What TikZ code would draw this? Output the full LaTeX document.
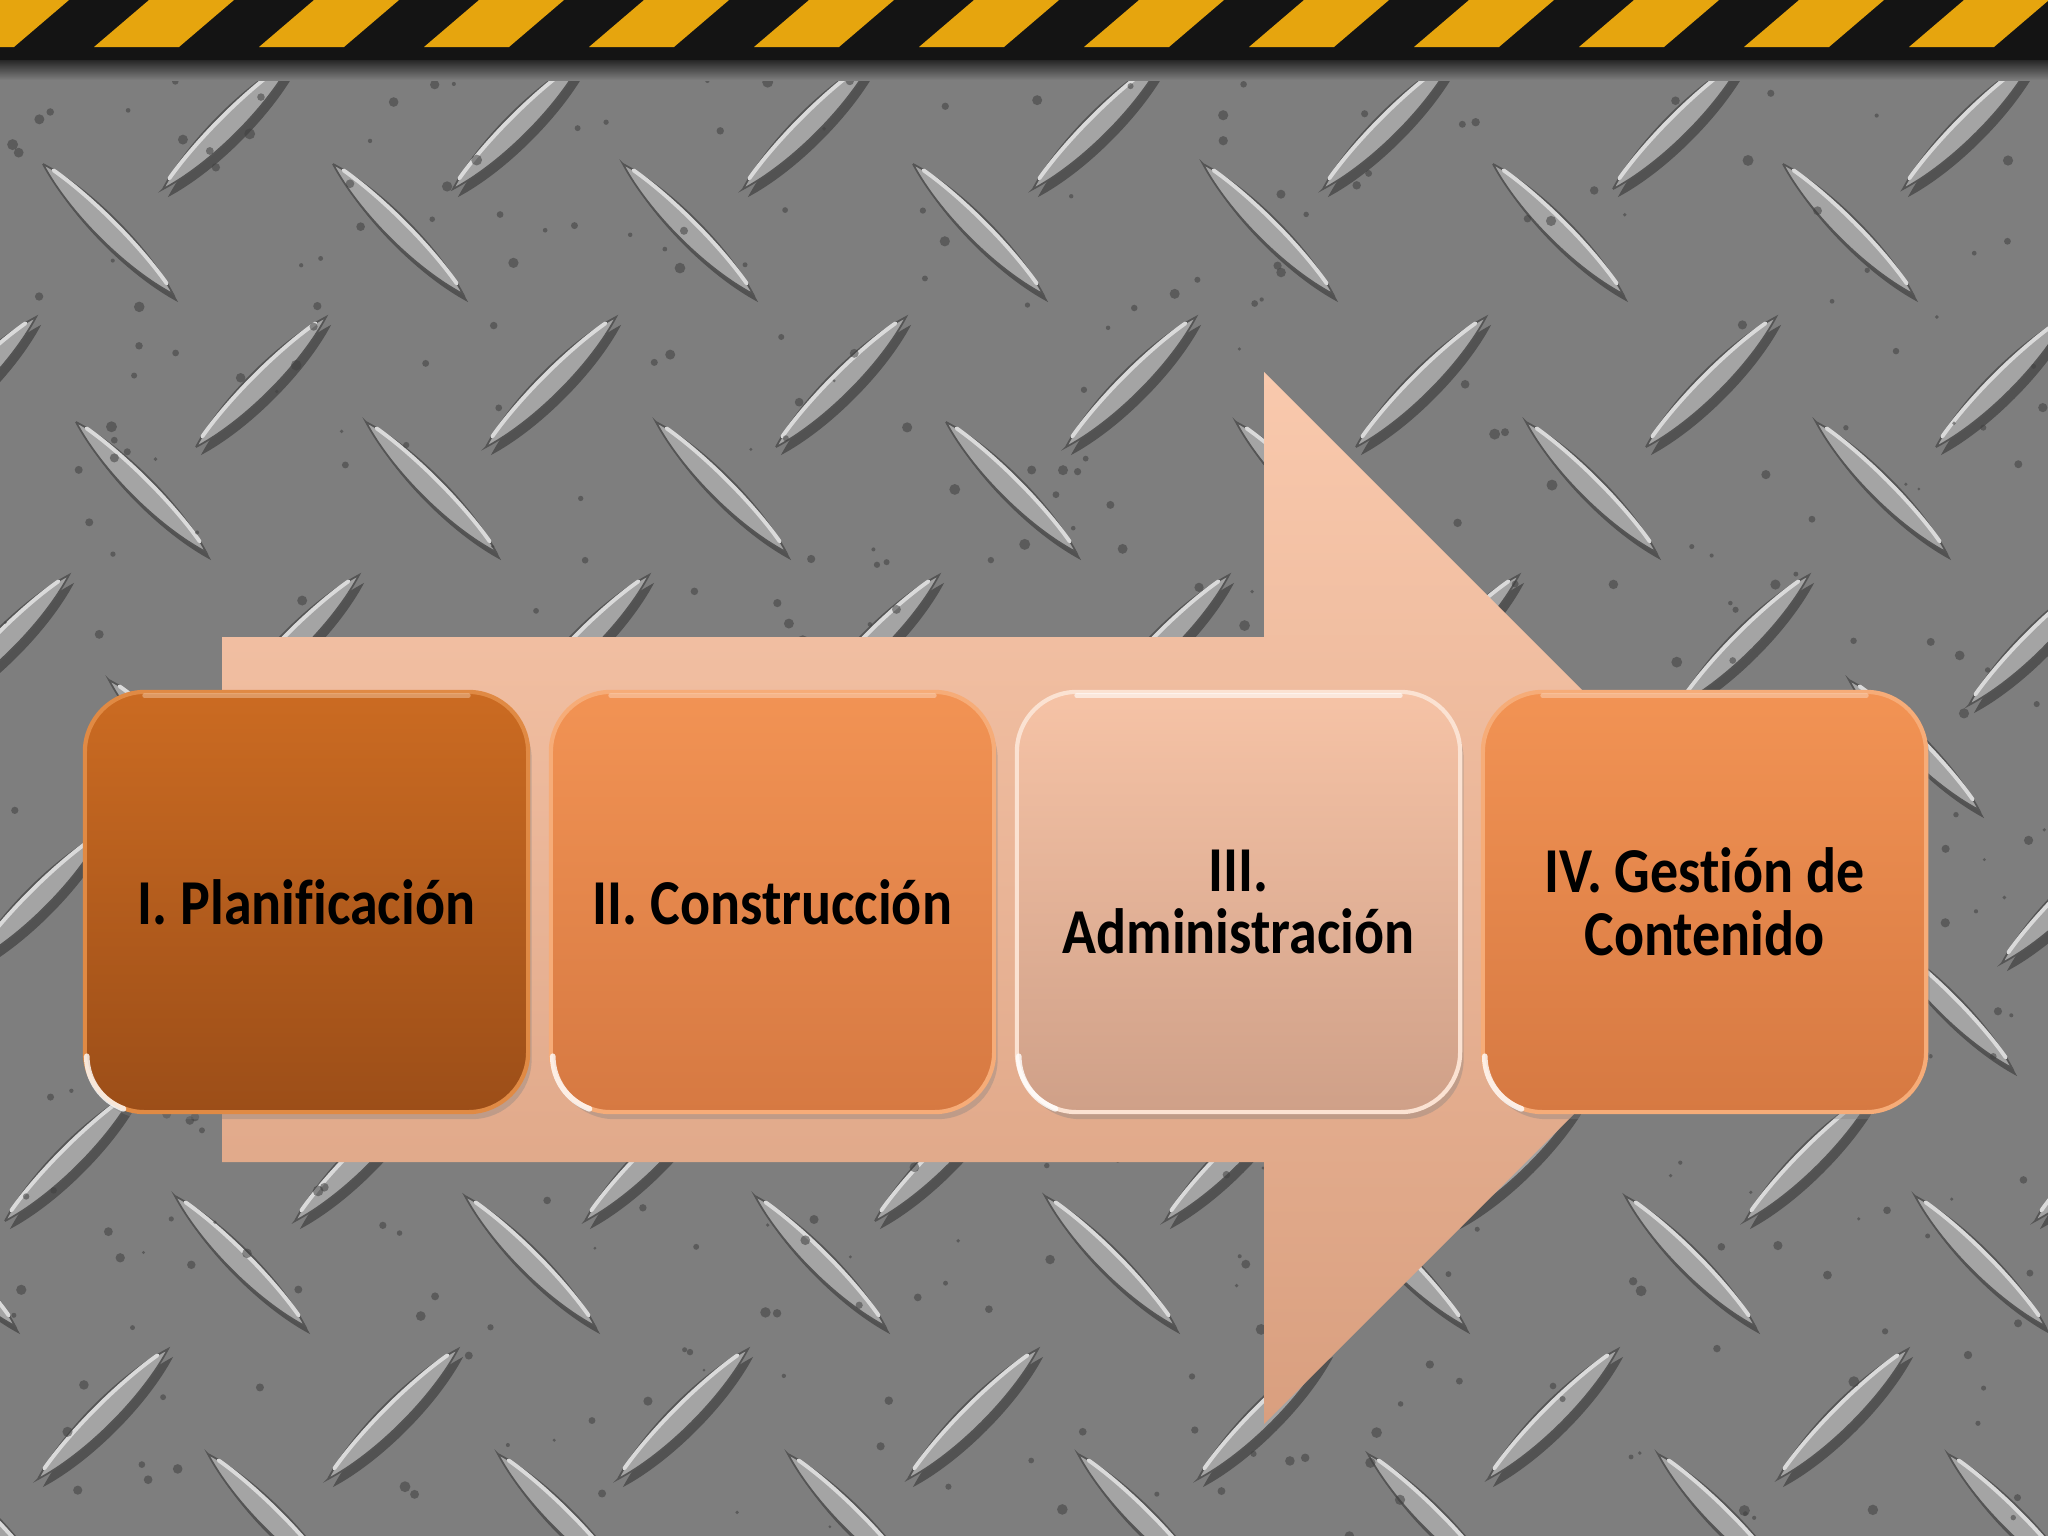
\documentclass[tikz,border=0pt]{standalone}
\usepackage{fontspec}
\newfontfamily\boxfont{Carlito}[FakeStretch=0.875,Ligatures={NoCommon}]
\usetikzlibrary{calc,shadows}
\definecolor{bgmetal}{HTML}{7E7E7E}
\definecolor{barfill}{HTML}{A4A4A4}
\definecolor{barrim}{HTML}{555555}
\definecolor{barlight}{HTML}{DADADA}
\definecolor{hazardyellow}{HTML}{E6A50E}
\definecolor{arrowtop}{HTML}{F9C9AD}
\definecolor{arrowbot}{HTML}{D99F7F}
\definecolor{oneTop}{HTML}{CB6B22}
\definecolor{oneBot}{HTML}{9C4E18}
\definecolor{oneRim}{HTML}{E08A44}
\definecolor{twoTop}{HTML}{F29354}
\definecolor{twoBot}{HTML}{D67942}
\definecolor{twoRim}{HTML}{F6AC78}
\definecolor{threeTop}{HTML}{F6C3A6}
\definecolor{threeBot}{HTML}{CFA088}
\definecolor{threeRim}{HTML}{FBE2D2}
\newcommand\metalbar[3]{%
  \begin{scope}[shift={(#1+5,#2+8)},rotate=#3]
    \fill[barshade] (-92,0) .. controls (-40,-16) and (40,-16) .. (92,0) .. controls (40,16) and (-40,16) .. cycle;
  \end{scope}
  \begin{scope}[shift={(#1,#2)},rotate=#3]
    \filldraw[barbody] (-92,0) .. controls (-40,-16) and (40,-16) .. (92,0) .. controls (40,16) and (-40,16) .. cycle;
    \draw[barhl] (-80,-3) .. controls (-35,-11) and (35,-11) .. (80,-3);
  \end{scope}}
\begin{document}
\begin{tikzpicture}[x=0.01cm,y=-0.01cm,
  barshade/.style={fill=black,fill opacity=0.35},
  barbody/.style={fill=barfill,draw=barrim,line width=0.5pt},
  barhl/.style={draw=barlight,line width=1.1pt,line cap=round},
  speck/.style={fill=black!75,fill opacity=0.55},
  hazard/.style={fill=hazardyellow},
  stepbox/.style={rectangle,rounded corners=0.6cm,minimum width=4.43cm,minimum height=4.2cm,
    inner sep=0pt,align=center,text=black,line width=1.2pt,
    font=\boxfont\bfseries\fontsize{18.2}{17.8}\selectfont,
    drop shadow={opacity=0.35,shadow xshift=1pt,shadow yshift=-2pt}},
  boxone/.style={stepbox,top color=oneTop,bottom color=oneBot,draw=oneRim},
  boxtwo/.style={stepbox,top color=twoTop,bottom color=twoBot,draw=twoRim},
  boxthree/.style={stepbox,top color=threeTop,bottom color=threeBot,draw=threeRim},
  tophl/.style={line width=1.4pt,line cap=round,opacity=0.6},
  cornerhl/.style={draw=white,line width=1.6pt,opacity=0.8,line cap=round}]
\useasboundingbox (0,0) rectangle (2048,1536);
\begin{scope}
\clip (0,0) rectangle (2048,1536);
\fill[bgmetal] (0,0) rectangle (2048,1536);
% diamond plate bars
\foreach \j in {-1,...,6}{
  \foreach \i in {-2,...,7}{
    \pgfmathsetmacro\cx{228+290*\i+33*\j}
    \pgfmathsetmacro\cy{124+258*\j}
    \pgfmathsetmacro\dx{\cx+170}
    \pgfmathsetmacro\dy{\cy+105}
    \metalbar{\cx}{\cy}{45}
    \metalbar{\dx}{\dy}{-45}
  }}
% speckles
\pgfmathsetseed{42}
\foreach \k in {1,...,450}{
  \pgfmathsetmacro\px{rnd*2048}
  \pgfmathsetmacro\py{60+rnd*1476}
  \pgfmathsetmacro\pr{1.5+rnd*4}
  \fill[speck] (\px,\py) circle[radius=\pr];
}
% hazard stripe
\fill[black!92] (0,0) rectangle (2048,60);
\shade[top color=black!85,bottom color=bgmetal] (0,60) rectangle (2048,80);
\foreach \k in {-1,...,13}{
  \fill[hazard] ({\k*165+94},47) -- ({\k*165+179},47) -- ({\k*165+234},0) -- ({\k*165+149},0) -- cycle;
}
\end{scope}
% big arrow
\shade[top color=arrowtop,bottom color=arrowbot]
  (222,637) -- (1264,637) -- (1264,372) -- (1790,898) -- (1264,1424) -- (1264,1162) -- (222,1162) -- cycle;
% step boxes
\node[boxone]   (b1) at (306.5,902)  {I. Planificación};
\node[boxtwo]   (b2) at (772.5,902)  {II. Construcción};
\node[boxthree] (b3) at (1238.5,902) {III.\\Administración};
\node[boxtwo]   (b4) at (1704.5,902) {IV. Gestión de\\Contenido};
% glossy highlights
\foreach \b/\c in {b1/oneRim,b2/twoRim,b3/white,b4/twoRim}{
  \draw[tophl,draw=\c!60!white] ($(\b.north west)+(62,6)$) -- ($(\b.north east)+(-62,6)$);
  \draw[cornerhl] ($(\b.south west)+(4,-58)$) arc[start angle=180,end angle=250,radius=0.56cm];
}
\end{tikzpicture}
\end{document}
